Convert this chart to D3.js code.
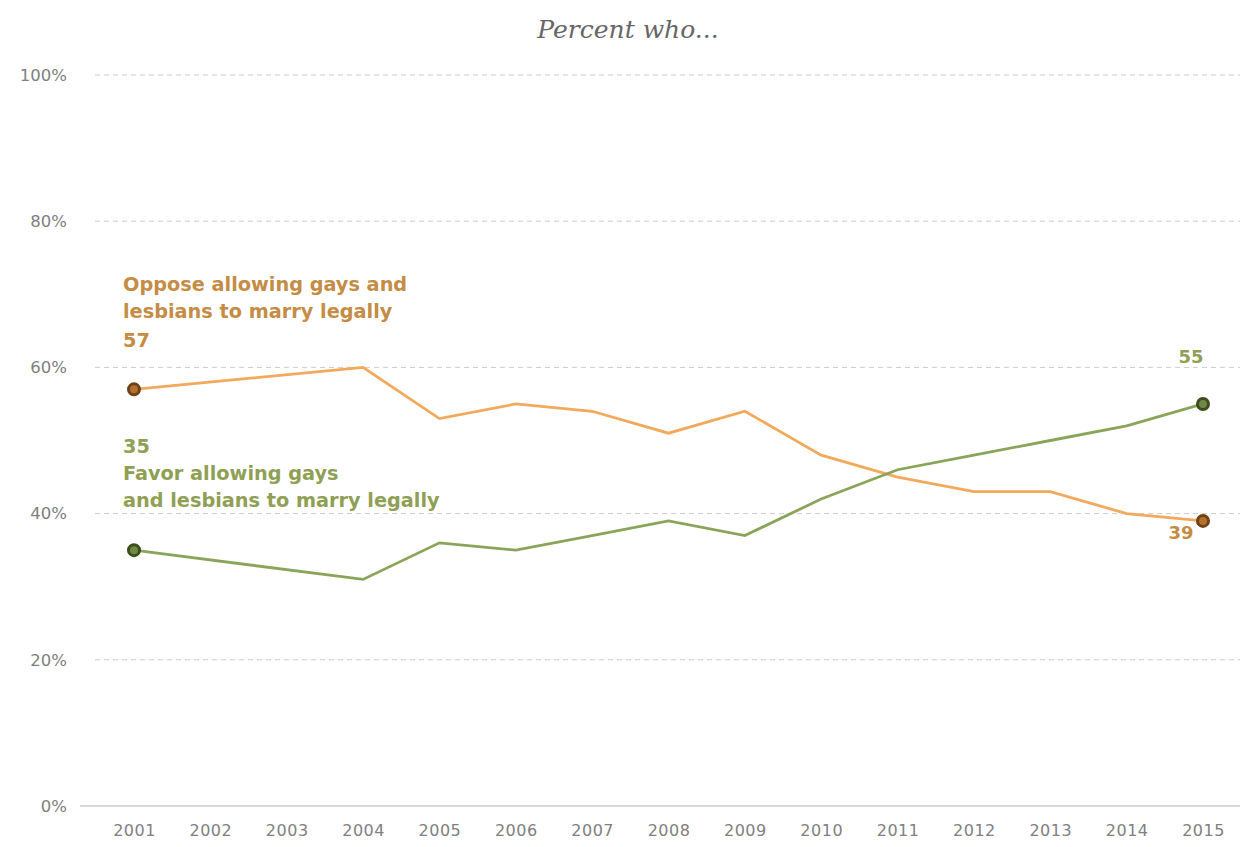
<!DOCTYPE html>
<html>
<head>
<meta charset="utf-8">
<script src="https://cdn.jsdelivr.net/npm/d3@7"></script>
<style>
  body { margin: 0; background: #fff; }
  .axis text { font-family: "DejaVu Sans", Verdana, sans-serif; font-size: 16.5px; fill: #808080; }
  .lbl { font-family: "DejaVu Sans", Verdana, sans-serif; font-size: 19.3px; font-weight: bold; }
</style>
</head>
<body>
<svg width="1242" height="847"></svg>
<script>
// data (no points for 2002/2003)
var years = [2001, 2004, 2005, 2006, 2007, 2008, 2009, 2010, 2011, 2012, 2013, 2014, 2015];
var oppose = [57, 60, 53, 55, 54, 51, 54, 48, 45, 43, 43, 40, 39];
var favor = [35, 31, 36, 35, 37, 39, 37, 42, 46, 48, 50, 52, 55];
var yearTicks = d3.range(2001, 2016);
var pctTicks = [0, 20, 40, 60, 80, 100];

var svg = d3.select("svg");

var x = d3.scaleLinear().domain([2001, 2015]).range([134, 1203]);
var y = d3.scaleLinear().domain([0, 100]).range([806, 75]);

svg.append("text")
    .attr("x", 628).attr("y", 38)
    .attr("text-anchor", "middle")
    .style("font-family", "'DejaVu Serif', Georgia, serif")
    .style("font-style", "italic")
    .style("font-size", "25px")
    .style("fill", "#666")
    .text("Percent who...");

// gridlines
svg.append("g").selectAll("line")
    .data(pctTicks.filter(function(d) { return d > 0; }))
    .enter().append("line")
    .attr("x1", 95).attr("x2", 1240)
    .attr("y1", function(d) { return y(d); })
    .attr("y2", function(d) { return y(d); })
    .attr("stroke", "#ccc")
    .attr("stroke-dasharray", "5,4");

svg.append("line")
    .attr("x1", 80).attr("x2", 1240)
    .attr("y1", y(0)).attr("y2", y(0))
    .attr("stroke", "#c5ccd2").attr("stroke-width", 1.5);

// y axis labels
var yAxis = svg.append("g")
    .attr("class", "axis")
    .attr("transform", "translate(67,0)")
    .call(d3.axisLeft(y).tickValues(pctTicks).tickSize(0).tickPadding(0)
        .tickFormat(function(d) { return d + "%"; }));
yAxis.select(".domain").remove();

var xAxis = svg.append("g")
    .attr("class", "axis")
    .attr("transform", "translate(0," + y(0) + ")")
    .call(d3.axisBottom(x).tickValues(yearTicks).tickSize(0).tickPadding(19)
        .tickFormat(d3.format("d")));
xAxis.select(".domain").remove();
xAxis.selectAll("text").style("font-size", "16px").style("letter-spacing", "0.5px");

var line = d3.line()
    .x(function(d, i) { return x(years[i]); })
    .y(function(d) { return y(d); });

svg.append("path").datum(oppose)
    .attr("fill", "none").attr("stroke", "#f2a95c").attr("stroke-width", 2.8)
    .attr("d", line);
svg.append("path").datum(favor)
    .attr("fill", "none").attr("stroke", "#8aa55a").attr("stroke-width", 2.8)
    .attr("d", line);

function dots(vals, stroke, fill) {
    var last = vals.length - 1;
    svg.append("g").selectAll("circle")
        .data([0, last])
        .enter().append("circle")
        .attr("cx", function(i) { return x(years[i]); })
        .attr("cy", function(i) { return y(vals[i]); })
        .attr("r", 5.5)
        .attr("fill", fill)
        .attr("stroke", stroke)
        .attr("stroke-width", 3);
}
dots(oppose, "#6e4214", "#b2712c");
dots(favor, "#3d4d1a", "#6f8845");

// labels
var opC = "#c48c45", faC = "#8fa055";
var opLbl = svg.append("text").attr("class", "lbl").style("fill", opC);
opLbl.append("tspan").attr("x", 123).attr("y", 291).text("Oppose allowing gays and");
opLbl.append("tspan").attr("x", 123).attr("y", 318).text("lesbians to marry legally");
opLbl.append("tspan").attr("x", 123).attr("y", 347).text(oppose[0]);

var faLbl = svg.append("text").attr("class", "lbl").style("fill", faC);
faLbl.append("tspan").attr("x", 123).attr("y", 453).text(favor[0]);
faLbl.append("tspan").attr("x", 123).attr("y", 480).text("Favor allowing gays");
faLbl.append("tspan").attr("x", 123).attr("y", 507).text("and lesbians to marry legally");

svg.append("text").attr("class", "lbl").style("fill", faC)
    .attr("x", x(2015) - 12).attr("y", 363).attr("text-anchor", "middle")
    .style("font-size", "18px")
    .text(favor[favor.length - 1]);
svg.append("text").attr("class", "lbl").style("fill", opC)
    .attr("x", x(2015) - 22).attr("y", 539).attr("text-anchor", "middle")
    .style("font-size", "18px")
    .text(oppose[oppose.length - 1]);
</script>
</body>
</html>
